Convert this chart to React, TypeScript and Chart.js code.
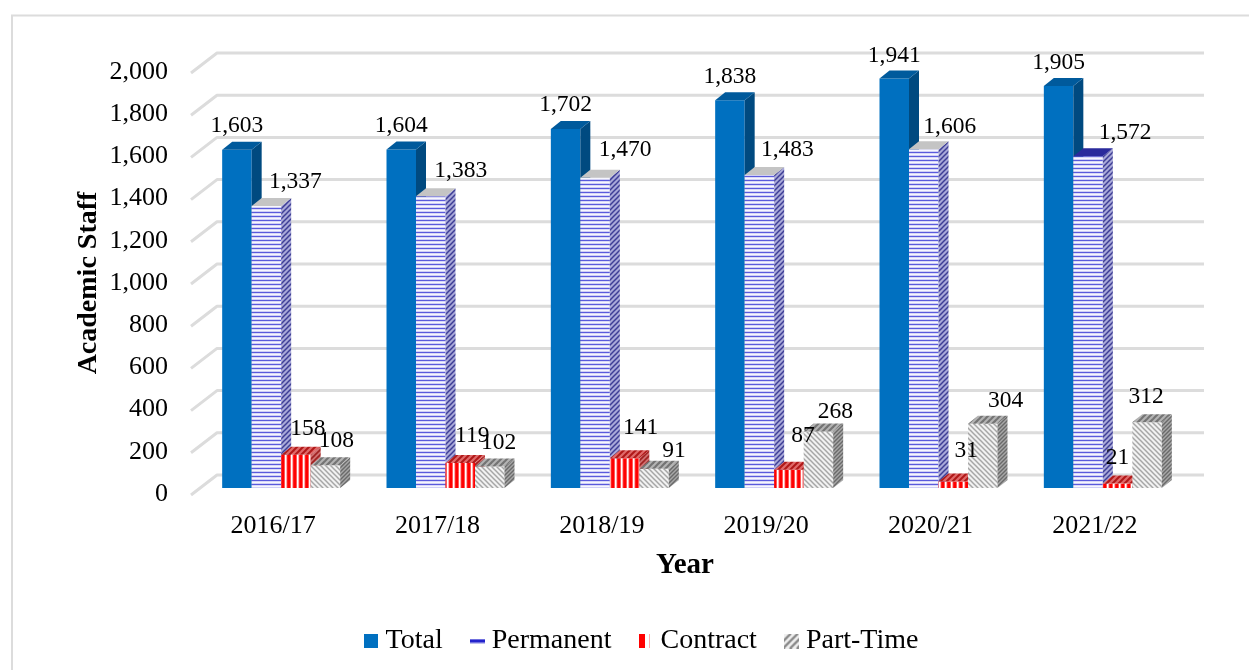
import React, { useEffect, useRef } from "react";
import { Chart, registerables } from "chart.js";

Chart.register(...registerables);

const years = ["2016/17", "2017/18", "2018/19", "2019/20", "2020/21", "2021/22"];
const total = [1603, 1604, 1702, 1838, 1941, 1905];
const permanent = [1337, 1383, 1470, 1483, 1606, 1572];
const contract = [158, 119, 141, 87, 31, 21];
const partTime = [108, 102, 91, 268, 304, 312];
const yTickValues = [0, 200, 400, 600, 800, 1000, 1200, 1400, 1600, 1800, 2000];

// Nudges of the value labels relative to the bar top they belong to.
const totalNudge = [[0, -24], [0, -24], [0, -24], [0, -23], [0, -23], [0, -23]];
const permanentNudge = [[29, -24], [30, -25], [30, -28], [28, -25], [26, -22], [37, -23]];
const contractNudge = [[12, -26], [12, -27], [16, -30], [14, -34], [13, -31], [0, -26]];
const partTimeNudge = [[11, -24], [9, -24], [20, -18], [17, -20], [23, -23], [-1, -25]];
const nudges = [totalNudge, permanentNudge, contractNudge, partTimeNudge];

const permanentTopColors = ["#c4c4c4", "#c4c4c4", "#c4c4c4", "#c4c4c4", "#c4c4c4", "#2a2a9c"];

const SERIF = "'Liberation Serif', serif";
const DEPTH_X = 10;
const DEPTH_Y = 8;

function tile(w: number, h: number, draw: (c: CanvasRenderingContext2D) => void) {
  const el = document.createElement("canvas");
  el.width = w;
  el.height = h;
  draw(el.getContext("2d")!);
  return el;
}
function rows(colors: string[]) {
  return tile(1, colors.length, (c) => colors.forEach((col, i) => { c.fillStyle = col; c.fillRect(0, i, 1, 1); }));
}
function cols(colors: string[]) {
  return tile(colors.length, 1, (c) => colors.forEach((col, i) => { c.fillStyle = col; c.fillRect(i, 0, 1, 1); }));
}
function diag(size: number, bg: string, fg: string, lw: number, down: boolean) {
  return tile(size, size, (c) => {
    c.fillStyle = bg;
    c.fillRect(0, 0, size, size);
    c.strokeStyle = fg;
    c.lineWidth = lw;
    for (let k = -size; k <= size * 2; k += size) {
      c.beginPath();
      if (down) { c.moveTo(k - size, 0 - size); c.lineTo(k + size * 2, size * 2); }
      else { c.moveTo(k - size, size * 2); c.lineTo(k + size * 2, -size); }
      c.stroke();
    }
  });
}

function makeStyles(ctx: CanvasRenderingContext2D) {
  const pat = (el: HTMLCanvasElement) => ctx.createPattern(el, "repeat")!;
  const blue = "#0070c0";
  return {
    front: [
      blue,
      pat(rows(["#5a5adc", "#d8d8f8", "#f6f6fe", "#cfcff5"])),
      pat(cols(["#ff0000", "#ff0000", "#ff5a5a", "#ffffff", "#ffb0b0", "#ff2020"])),
      pat(diag(5, "#f2f2f2", "#a6a6a6", 1.5, true)),
    ],
    side: [
      "#004a80",
      pat(diag(5, "#a8a8d8", "#3e3e96", 1.5, false)),
      pat(diag(5, "#d07070", "#a02020", 1.6, false)),
      pat(diag(4, "#a8a8a8", "#6a6a6a", 1.4, false)),
    ],
    top: [
      "#005a9c",
      null,
      pat(diag(6, "#e06a6a", "#b01818", 2, false)),
      pat(diag(6, "#b4b4b4", "#747474", 2.2, false)),
    ],
    legendIcons: [
      tile(14, 14, (c) => { c.fillStyle = blue; c.fillRect(0, 0, 14, 14); }),
      tile(15, 5, (c) => {
        c.fillStyle = "#bfbff0"; c.fillRect(0, 0, 15, 5);
        c.fillStyle = "#2323cc"; c.fillRect(0, 1, 15, 3);
      }),
      tile(14, 14, (c) => {
        c.fillStyle = "#ff0000"; c.fillRect(0, 0, 6, 14);
        c.fillStyle = "#ffb0b0"; c.fillRect(10, 0, 1, 14);
      }),
      tile(15, 15, (c) => {
        c.fillStyle = "#f0f0f0"; c.fillRect(0, 0, 15, 15);
        c.strokeStyle = "#8a8a8a"; c.lineWidth = 2.4;
        for (let k = 0; k < 24; k += 7) {
          c.beginPath(); c.moveTo(k - 8, 15); c.lineTo(k + 7, 0); c.stroke();
        }
      }),
    ],
  };
}

export default function App() {
  const ref = useRef<HTMLCanvasElement>(null);
  useEffect(() => {
    const ctx = ref.current!.getContext("2d")!;
    const st = makeStyles(ctx);
    const names = ["Total", "Permanent", "Contract", "Part-Time"];
    const series = [total, permanent, contract, partTime];

    const frame = {
      id: "frame",
      afterLayout(chart: any) {
        const lg = chart.legend;
        lg.left += 16;
        lg.right += 16;
        lg.top = 593;
        lg.bottom = 660;
        chart.scales.x.left -= 14;
        chart.scales.y.top += 12;
      },
      beforeDatasetsDraw(chart: any) {
        const c = chart.ctx;
        const y = chart.scales.y;
        const area = chart.chartArea;
        c.save();
        c.strokeStyle = "#dcdcdc";
        c.lineWidth = 2;
        c.beginPath();
        c.moveTo(12, 670); c.lineTo(12, 15.5); c.lineTo(1249, 15.5);
        c.stroke();
        c.strokeStyle = "#dcdcdc";
        c.lineWidth = 3;
        c.lineJoin = "round";
        yTickValues.forEach((v) => {
          const py = y.getPixelForValue(v);
          c.beginPath();
          c.moveTo(area.left - 8, py + 7);
          c.lineTo(area.left + 18, py - 13);
          c.lineTo(area.right + 19, py - 13);
          c.stroke();
        });
        c.restore();

        // Series are painted left to right so that each bar's front covers the
        // side face of the bar before it.
        series.forEach((_, i) => {
          const meta = chart.getDatasetMeta(i);
          meta.controller.draw();
          meta.data.forEach((bar: any, j: number) => {
            const half = bar.width / 2;
            const l = bar.x - half;
            const r = bar.x + half;
            const t = bar.y;
            const b = bar.base;
            c.save();
            c.fillStyle = st.side[i];
            c.beginPath();
            c.moveTo(r, t); c.lineTo(r + DEPTH_X, t - DEPTH_Y);
            c.lineTo(r + DEPTH_X, b - DEPTH_Y); c.lineTo(r, b);
            c.closePath(); c.fill();
            c.fillStyle = st.top[i] ?? permanentTopColors[j];
            c.beginPath();
            c.moveTo(l, t); c.lineTo(l + DEPTH_X, t - DEPTH_Y);
            c.lineTo(r + DEPTH_X, t - DEPTH_Y); c.lineTo(r, t);
            c.closePath(); c.fill();
            c.restore();
          });
        });

        c.save();
        c.font = `23.5px ${SERIF}`;
        c.fillStyle = "#000";
        c.textAlign = "center";
        c.textBaseline = "middle";
        series.forEach((vals, i) => {
          chart.getDatasetMeta(i).data.forEach((bar: any, j: number) => {
            const [dx, dy] = nudges[i][j];
            c.fillText(vals[j].toLocaleString("en-US"), bar.x + dx, bar.y + dy);
          });
        });
        c.restore();
        return false;
      },
    };

    const chart = new Chart(ctx, {
      type: "bar",
      data: {
        labels: years,
        datasets: series.map((vals, i) => ({
          label: names[i],
          data: vals,
          backgroundColor: st.front[i] as any,
          borderWidth: 0,
          barPercentage: 1,
          categoryPercentage: 0.718,
        })),
      },
      options: {
        animation: false,
        responsive: false,
        devicePixelRatio: 1,
        layout: { padding: { left: 72, right: 64, top: 66, bottom: 10 } },
        plugins: {
          tooltip: { enabled: false },
          legend: {
            position: "bottom",
            labels: {
              usePointStyle: true,
              boxWidth: 1,
              boxHeight: 14,
              padding: 34,
              color: "#000",
              font: { family: SERIF, size: 28 },
              generateLabels: () =>
                names.map((n, i) => ({
                  text: n,
                  datasetIndex: i,
                  pointStyle: st.legendIcons[i] as any,
                  fillStyle: "#000",
                  lineWidth: 0,
                  hidden: false,
                })),
            },
          },
        },
        scales: {
          x: {
            grid: { display: false },
            border: { display: false },
            afterFit: (s: any) => { s.height = 100; },
            ticks: {
              color: "#000",
              labelOffset: -8,
              padding: 15,
              maxRotation: 0,
              font: { family: SERIF, size: 26 },
            },
            title: {
              display: true,
              text: "Year",
              color: "#000",
              font: { family: SERIF, size: 29, weight: "bold" },
              padding: { top: 0, bottom: 5 },
            },
          },
          y: {
            min: 0,
            max: 2000,
            grid: { display: false, drawTicks: false },
            border: { display: false },
            afterFit: (s: any) => { s.width = 127; },
            afterBuildTicks: (s: any) => { s.ticks = yTickValues.map((value) => ({ value })); },
            ticks: {
              color: "#000",
              padding: 31,
              labelOffset: 6,
              font: { family: SERIF, size: 26 },
              callback: (v: any) => Number(v).toLocaleString("en-US"),
            },
            title: {
              display: true,
              text: "Academic Staff",
              color: "#000",
              font: { family: SERIF, size: 28, weight: "bold" },
              padding: 0,
            },
          },
        },
      },
      plugins: [frame],
    } as any);
    return () => chart.destroy();
  }, []);
  return (
    <div style={{ position: "fixed", left: 0, top: 0, width: 1249, height: 670, background: "#fff" }}>
      <canvas ref={ref} width={1249} height={670} style={{ display: "block" }} />
    </div>
  );
}
